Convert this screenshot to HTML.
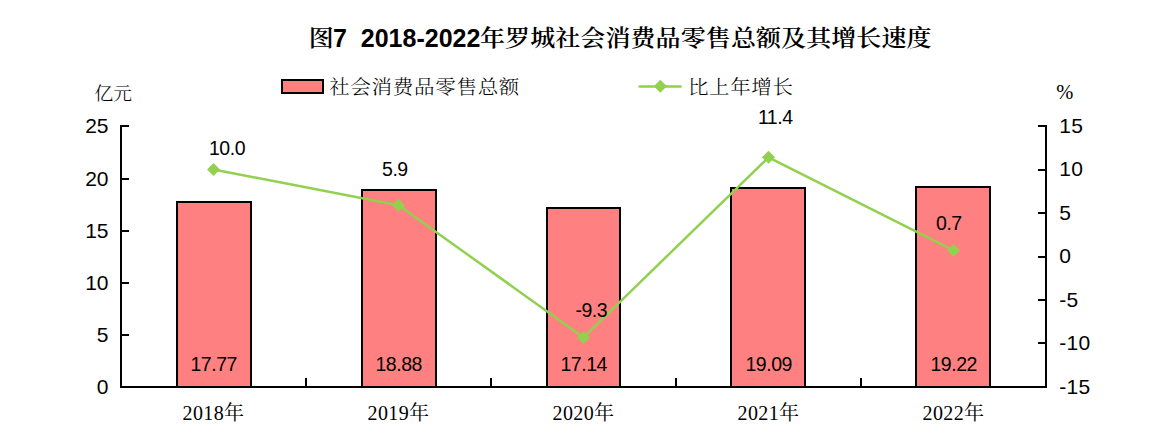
<!DOCTYPE html>
<html lang="zh-CN">
<head>
<meta charset="utf-8">
<title>图7 2018-2022年罗城社会消费品零售总额及其增长速度</title>
<style>
html,body{margin:0;padding:0;background:#fff;}
body{width:1160px;height:447px;overflow:hidden;position:relative;}
svg{position:absolute;left:0;top:0;display:block;}
.num{font-family:"Liberation Sans",Arial,sans-serif;font-size:21px;fill:#000;}
.lbl{font-family:"Liberation Sans",Arial,sans-serif;font-size:19.5px;fill:#000;}
.cat{font-family:"Liberation Serif","Noto Serif CJK SC",serif;font-size:20px;letter-spacing:0.4px;fill:#000;}
.cjk{font-family:"Noto Serif CJK SC",serif;font-size:20.5px;font-weight:300;fill:#000;}
.unit{font-family:"Noto Serif CJK SC",serif;font-size:18.7px;font-weight:300;fill:#000;}
.title{font-family:"Liberation Sans","Noto Serif CJK SC",sans-serif;font-size:25px;font-weight:bold;fill:#000;}
.title.tc{font-family:"Noto Serif CJK SC",serif;font-weight:600;}
</style>
</head>
<body>
<svg width="1160" height="447" viewBox="0 0 1160 447">
<g transform="translate(0 37.8) scale(1 0.91) translate(0 -37.8)"><text class="title tc" x="308.8" y="47">图</text><text class="title tc" x="480" y="47" style="letter-spacing:0.1px">年罗城社会消费品零售总额及其增长速度</text></g>
<text class="title" x="333" y="47" xml:space="preserve">7  2018-2022</text>
<rect x="282" y="80" width="41" height="13" fill="#FF8080" stroke="#000" stroke-width="2"/>
<g transform="translate(0 86.3) scale(1 0.95) translate(0 -86.3)"><text class="cjk" x="329.2" y="94" style="letter-spacing:0.72px">社会消费品零售总额</text><text class="cjk" x="688" y="94" style="letter-spacing:0.62px">比上年增长</text></g>
<line x1="639.6" y1="86.4" x2="680.6" y2="86.4" stroke="#92D050" stroke-width="2.5" stroke-linecap="round"/>
<path d="M660.3 79.8 l6.5 6.5 l-6.5 6.5 l-6.5 -6.5 z" fill="#92D050"/>
<text class="unit" x="94.6" y="100.2">亿元</text>
<text x="1056.3" y="98.7" style="font-family:'Liberation Serif',serif;font-size:20.5px">%</text>
<g fill="#FF8080" stroke="#000" stroke-width="2">
  <rect x="177" y="202" width="74" height="185.0"/>
  <rect x="362" y="190" width="74" height="197.0"/>
  <rect x="547" y="208" width="73" height="179.0"/>
  <rect x="731" y="188" width="74" height="199.0"/>
  <rect x="916" y="187" width="74" height="200.0"/>
</g>
<g stroke="#000" stroke-width="2" fill="none">
  <line x1="121" y1="125" x2="121" y2="388"/>
  <line x1="1046" y1="125" x2="1046" y2="388"/>
  <line x1="120" y1="387.0" x2="1047" y2="387.0"/>
  <path d="M120 126H129M120 179H129M120 231H129M120 283H129M120 335H129"/>
  <path d="M1038 126H1046M1038 170H1046M1038 213H1046M1038 257H1046M1038 300H1046M1038 343H1046"/>
  <path d="M306 378V387.0M491 378V387.0M676 378V387.0M861 378V387.0"/>
</g>
<g class="num" text-anchor="end">
  <text x="108.5" y="132.60">25</text>
  <text x="108.5" y="185.60">20</text>
  <text x="108.5" y="237.60">15</text>
  <text x="108.5" y="289.60">10</text>
  <text x="108.5" y="341.60">5</text>
  <text x="108.5" y="393.60">0</text>
</g>
<g class="num" text-anchor="start" style="letter-spacing:0.3px">
  <text x="1059.3" y="132.60">15</text>
  <text x="1059.3" y="176.10">10</text>
  <text x="1059.3" y="219.60">5</text>
  <text x="1059.3" y="263.10">0</text>
  <text x="1059.3" y="306.60">-5</text>
  <text x="1059.3" y="350.10">-10</text>
  <text x="1059.3" y="393.60">-15</text>
</g>
<polyline points="213.5,169.50 398.5,205.17 583.5,337.41 768.5,157.32 953.5,250.41" fill="none" stroke="#92D050" stroke-width="2.5" stroke-linejoin="round" stroke-linecap="round"/>
<g fill="#92D050">
  <path d="M213.5 163.00 l6.5 6.5 l-6.5 6.5 l-6.5 -6.5 z"/>
  <path d="M398.5 198.67 l6.5 6.5 l-6.5 6.5 l-6.5 -6.5 z"/>
  <path d="M583.5 330.91 l6.5 6.5 l-6.5 6.5 l-6.5 -6.5 z"/>
  <path d="M768.5 150.82 l6.5 6.5 l-6.5 6.5 l-6.5 -6.5 z"/>
  <path d="M953.5 243.91 l6.5 6.5 l-6.5 6.5 l-6.5 -6.5 z"/>
</g>
<g class="lbl" style="letter-spacing:-0.45px">
  <text x="208.9" y="155">10.0</text>
  <text x="382" y="176">5.9</text>
  <text x="575.4" y="317">-9.3</text>
  <text x="757.9" y="124">11.4</text>
  <text x="936" y="229.8">0.7</text>
</g>
<g class="lbl" text-anchor="middle" style="font-size:19.5px;letter-spacing:-0.45px">
  <text x="213.7" y="371">17.77</text>
  <text x="398.7" y="371">18.88</text>
  <text x="583.7" y="371">17.14</text>
  <text x="768.7" y="371">19.09</text>
  <text x="953.7" y="371">19.22</text>
</g>
<g class="cat" text-anchor="middle">
  <text x="213.5" y="420">2018年</text>
  <text x="398.5" y="420">2019年</text>
  <text x="583.5" y="420">2020年</text>
  <text x="768.5" y="420">2021年</text>
  <text x="953.5" y="420">2022年</text>
</g>
</svg>
</body>
</html>
